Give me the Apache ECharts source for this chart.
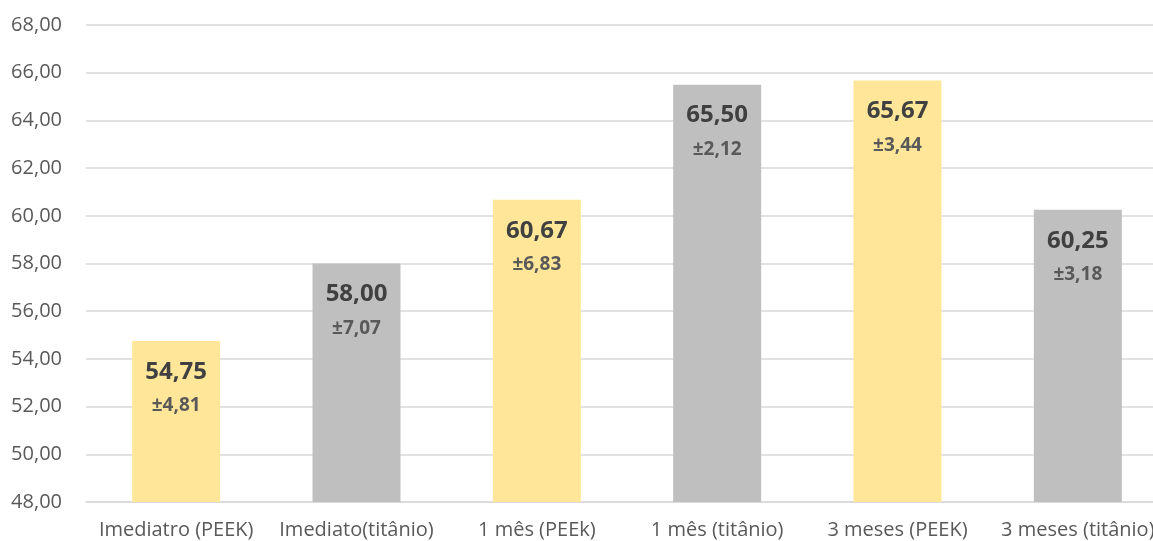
<!DOCTYPE html>
<html>
<head>
<meta charset="utf-8">
<script src="https://cdn.jsdelivr.net/npm/echarts@6/dist/echarts.min.js"></script>
<style>
  html, body { margin: 0; padding: 0; background: #ffffff; overflow: hidden; }
  /* the drawing runs a little past the right edge of the window */
  #chart { width: 1168px; height: 541px; }
</style>
</head>
<body>
<div id="chart"></div>
<script>
// Groups and measurements (mean ± standard deviation)
const categories = ['Imediatro (PEEK)', 'Imediato(titânio)', '1 mês (PEEk)', '1 mês (titânio)', '3 meses (PEEK)', '3 meses (titânio)'];
const means = [54.75, 58.00, 60.67, 65.50, 65.67, 60.25];
const deviations = [4.81, 7.07, 6.83, 2.12, 3.44, 3.18];
const barColors = ['#FFE699', '#BFBFBF', '#FFE699', '#BFBFBF', '#FFE699', '#BFBFBF'];

const fmt = v => v.toFixed(2).replace('.', ',');
const FONT = '"Open Sans", "Noto Sans", sans-serif';

const chart = echarts.init(document.getElementById('chart'), null, { renderer: 'canvas' });

chart.setOption({
  animation: false,
  grid: { left: 86, right: 0, top: 25, bottom: 39, containLabel: false, outerBoundsMode: 'none' },
  xAxis: {
    type: 'category',
    data: categories,
    axisLine: { show: true, lineStyle: { color: '#D9D9D9', width: 1.5 } },
    axisTick: { show: false },
    axisLabel: { color: '#595959', fontSize: 20, fontFamily: FONT, margin: 18, interval: 0, hideOverlap: false }
  },
  yAxis: {
    type: 'value',
    min: 48,
    max: 68,
    interval: 2,
    axisLine: { show: false },
    axisTick: { show: false },
    splitLine: { lineStyle: { color: '#D9D9D9', width: 1.5 } },
    axisLabel: { color: '#595959', fontSize: 20, fontFamily: FONT, margin: 24, formatter: v => fmt(v) }
  },
  series: [{
    type: 'bar',
    barWidth: 88,
    data: means.map((v, i) => ({ value: v, itemStyle: { color: barColors[i] } })),
    label: {
      show: true,
      position: 'insideTop',
      distance: 14,
      formatter: p => '{m|' + fmt(means[p.dataIndex]) + '}\n{s|±' + fmt(deviations[p.dataIndex]) + '}',
      rich: {
        m: { fontSize: 24, fontWeight: 'bold', color: '#404040', fontFamily: FONT, lineHeight: 34 },
        s: { fontSize: 19, fontWeight: 'bold', color: '#595959', fontFamily: FONT, lineHeight: 34 }
      }
    }
  }]
});
</script>
</body>
</html>
